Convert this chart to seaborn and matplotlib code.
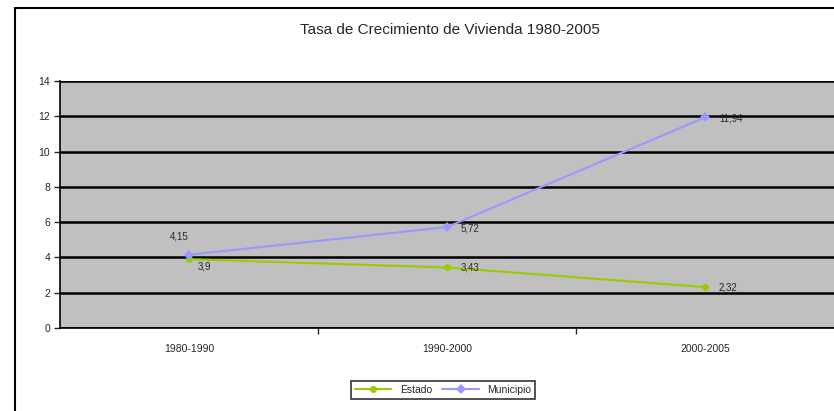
import pandas as pd
import matplotlib.pyplot as plt
import seaborn as sns

# datos
periodos = ["1980-1990", "1990-2000", "2000-2005"]
estado = [3.9, 3.43, 2.32]
municipio = [4.15, 5.72, 11.94]
etiquetas_estado = ["3,9", "3,43", "2,32"]
etiquetas_municipio = ["4,15", "5,72", "11,94"]

df = pd.DataFrame({
    "Periodo": periodos * 2,
    "Tasa": estado + municipio,
    "Serie": ["Estado"] * 3 + ["Municipio"] * 3,
})

sns.set_style("white")
plt.rcParams['font.family'] = ['Liberation Sans', 'DejaVu Sans']

fig = plt.figure(figsize=(8.34, 4.11), dpi=100)
ax = fig.add_axes([60 / 834, 1 - 328 / 411, 1 - 60 / 834, (328 - 81) / 411])

colores = {"Estado": "#99CC00", "Municipio": "#9999FF"}
sns.lineplot(data=df, x="Periodo", y="Tasa", hue="Serie", style="Serie",
             markers={"Estado": "o", "Municipio": "D"}, dashes=False,
             palette=colores, markersize=5, markeredgewidth=0, linewidth=1.5,
             sort=False, ax=ax, zorder=3)

ax.set_facecolor("#C0C0C0")
ax.set_xlim(-0.5, 2.5)
ax.set_ylim(0, 14)
ax.set_yticks(range(0, 15, 2))
ax.yaxis.grid(True, color="black", linewidth=1.8, zorder=1)
ax.set_axisbelow(True)
ax.set_xlabel("")
ax.set_ylabel("")
for s in ["top", "right"]:
    ax.spines[s].set_visible(False)
ax.spines["left"].set_color("black")
ax.spines["left"].set_linewidth(1.2)
ax.spines["bottom"].set_color("black")
ax.spines["bottom"].set_linewidth(1.2)
ax.tick_params(axis="y", left=True, length=4, width=1, labelsize=7.5, pad=3)
ax.set_xticks([0.5, 1.5], minor=True)
ax.tick_params(axis="x", which="major", bottom=False, labelsize=7.5, pad=8)
ax.tick_params(axis="x", which="minor", bottom=True, length=4, width=1)

# etiquetas de datos
ax.annotate(etiquetas_estado[0], (0, estado[0]), xytext=(6, -5),
            textcoords="offset points", fontsize=7, va="center", ha="left")
for i in [1, 2]:
    ax.annotate(etiquetas_estado[i], (i, estado[i]), xytext=(10, 0),
                textcoords="offset points", fontsize=7, va="center", ha="left")
ax.annotate(etiquetas_municipio[0], (0, municipio[0]), xytext=(-14, 13),
            textcoords="offset points", fontsize=7, va="center", ha="left")
for i in [1, 2]:
    ax.annotate(etiquetas_municipio[i], (i, municipio[i]), xytext=(10, -1),
                textcoords="offset points", fontsize=7, va="center", ha="left")

fig.text(450 / 834, 1 - 30 / 411, "Tasa de Crecimiento de Vivienda 1980-2005",
         ha="center", va="center", fontsize=11)

leg = ax.legend(loc="center", bbox_to_anchor=(443 / 834, 1 - 390 / 411),
                bbox_transform=fig.transFigure, ncol=2, frameon=True,
                fontsize=7.5, handlelength=3.5, columnspacing=1, borderpad=0.4,
                fancybox=False, title=None)
leg.get_frame().set_edgecolor("black")
leg.get_frame().set_linewidth(1.2)

# marco exterior del gráfico
fig.add_artist(plt.Line2D([15 / 834, 15 / 834], [0, 1 - 8 / 411], color="black",
                          linewidth=1.5, transform=fig.transFigure))
fig.add_artist(plt.Line2D([15 / 834, 1], [1 - 8 / 411, 1 - 8 / 411], color="black",
                          linewidth=1.5, transform=fig.transFigure))

fig.savefig("out.png", dpi=100)
